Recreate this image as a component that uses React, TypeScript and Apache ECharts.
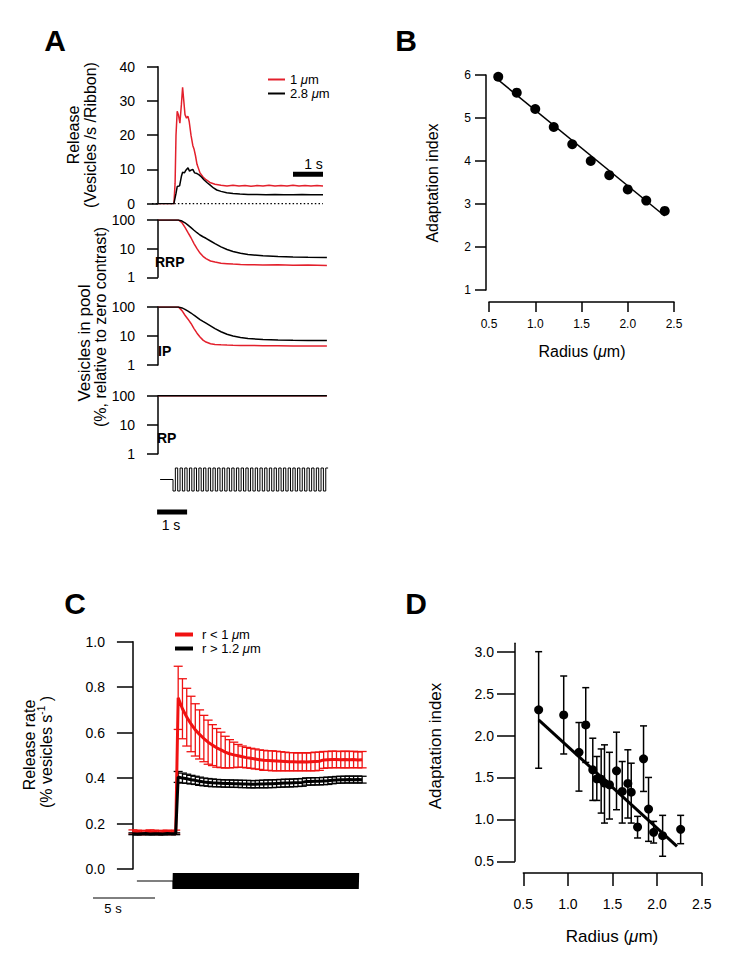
import React, { useEffect, useRef } from "react";
import * as echarts from "echarts";

const FONT = "'Liberation Sans', Arial, Helvetica, sans-serif";
const RED_A = "#e3202c";
const RED_C = "#f01212";
const BLACK = "#000000";

// ---------------- Panel A : release (vesicles / s / ribbon) ----------------
const A_RED_T = [0, 0.53, 0.57, 0.6, 0.64, 0.68, 0.73, 0.78, 0.82, 0.86, 0.9, 0.95, 1.0, 1.04, 1.1, 1.16, 1.2, 1.25, 1.3, 1.4, 1.5, 1.6, 1.73, 1.9, 2.1, 2.3, 2.5, 2.7, 2.9, 3.1, 3.3, 3.5, 3.7, 3.9, 4.1, 4.3, 4.5, 4.7, 4.9, 5.1, 5.3, 5.5];
const A_RED_REL = [0, 0, 6, 20, 27, 26, 23.5, 29, 34, 30, 26, 25, 25.5, 24, 20, 17, 16, 14, 11.5, 9, 7.8, 7, 6.2, 5.7, 5.4, 5.2, 5.4, 5.2, 5.3, 5.1, 5.3, 5.2, 5.4, 5.2, 5.3, 5.2, 5.4, 5.2, 5.3, 5.2, 5.3, 5.2];
const A_BLK_T = [0, 0.53, 0.6, 0.64, 0.72, 0.78, 0.82, 0.88, 0.93, 1.0, 1.05, 1.1, 1.16, 1.22, 1.3, 1.36, 1.45, 1.53, 1.63, 1.73, 1.85, 1.96, 2.1, 2.29, 2.5, 2.73, 3.0, 3.3, 3.6, 3.9, 4.2, 4.5, 4.8, 5.1, 5.5];
const A_BLK_REL = [0, 0, 3, 5, 5.2, 8, 9.2, 9, 9.8, 10.5, 9.5, 9.8, 10, 9, 8.8, 8.5, 7.8, 7, 6.2, 5.5, 4.6, 4, 3.6, 3.2, 2.95, 2.8, 2.7, 2.65, 2.6, 2.65, 2.6, 2.6, 2.65, 2.6, 2.6];
const A_ZERO_T = [-0.2, 5.5];
const A_ZERO_V = [0, 0];
const A_REL_TICKS = [0, 10, 20, 30, 40];
const A_LEGEND = ["1 μm", "2.8 μm"];
const A_SCALE_T = [4.5, 5.5];
const A_SCALE_V = [8.6, 8.6];

// ---------------- Panel A : pools (% relative to zero contrast) ----------------
const P_T = [0, 0.68, 0.8, 0.9, 1.0, 1.1, 1.2, 1.3, 1.4, 1.5, 1.6, 1.75, 1.9, 2.1, 2.3, 2.5, 2.75, 3.0, 3.5, 4.0, 4.5, 5.0, 5.63];
const RRP_RED = [100, 100, 80, 55, 36, 24, 15, 10, 7, 5.4, 4.5, 3.7, 3.4, 3.1, 3.0, 2.9, 2.8, 2.75, 2.7, 2.75, 2.65, 2.7, 2.6];
const RRP_BLK = [100, 100, 92, 80, 66, 54, 44, 36, 30, 26, 23, 18.5, 15, 11.5, 9.3, 8, 6.9, 6.2, 5.6, 5.3, 5.1, 5.0, 4.9];
const IP_RED = [100, 100, 75, 52, 38, 27, 18, 12.5, 9.2, 7.2, 6.2, 5.4, 5.1, 4.95, 4.85, 4.8, 4.75, 4.7, 4.65, 4.6, 4.55, 4.5, 4.5];
const IP_BLK = [100, 100, 93, 83, 72, 62, 52, 44, 37, 32, 28, 22.5, 18, 14, 11.5, 10, 8.9, 8.2, 7.6, 7.3, 7.1, 7.0, 7.0];
const RP_T = [0, 5.63];
const RP_RED = [100, 100];
const RP_BLK = [100, 100];

// stimulus (square-wave contrast) and its 1 s scale bar
const A_STIM = { start: 0.07, onset: 0.5, end: 5.67, cycles: 33 };
const A_STIM_SCALE_T = [-0.03, 0.97];
const A_STIM_SCALE_V = [-2.83, -2.83];

// ---------------- Panel B ----------------
const B_RADIUS = [0.6, 0.8, 1.0, 1.2, 1.4, 1.6, 1.8, 2.0, 2.2, 2.4];
const B_INDEX = [5.96, 5.59, 5.21, 4.79, 4.39, 4.0, 3.67, 3.34, 3.08, 2.84];
const B_FIT_X = [0.58, 2.4];
const B_FIT_Y = [5.92, 2.72];

// ---------------- Panel C ----------------
const C_BIN = 0.345;
const C_BASE_T0 = 0;
const C_POST_T0 = 3.65;
const C_RED_BASE = [0.163, 0.162, 0.16, 0.161, 0.163, 0.162, 0.16, 0.161, 0.162, 0.16, 0.162];
const C_RED_BASE_ERR = [0.009, 0.009, 0.009, 0.009, 0.009, 0.009, 0.009, 0.009, 0.009, 0.009, 0.009];
const C_BLK_BASE = [0.155, 0.154, 0.155, 0.156, 0.154, 0.155, 0.155, 0.154, 0.156, 0.155, 0.155];
const C_BLK_BASE_ERR = [0.004, 0.004, 0.004, 0.004, 0.004, 0.004, 0.004, 0.004, 0.004, 0.004, 0.004];
const C_RED_POST = [0.753, 0.705, 0.668, 0.638, 0.612, 0.592, 0.574, 0.558, 0.545, 0.533, 0.524, 0.514, 0.507, 0.502, 0.498, 0.494, 0.49, 0.487, 0.484, 0.481, 0.478, 0.477, 0.476, 0.475, 0.474, 0.473, 0.472, 0.472, 0.471, 0.472, 0.471, 0.472, 0.473, 0.474, 0.48, 0.481, 0.482, 0.482, 0.481, 0.482, 0.481, 0.482, 0.48, 0.481];
const C_RED_POST_ERR = [0.139, 0.132, 0.127, 0.122, 0.115, 0.108, 0.102, 0.097, 0.09, 0.085, 0.078, 0.07, 0.062, 0.056, 0.05, 0.047, 0.045, 0.044, 0.044, 0.043, 0.044, 0.043, 0.044, 0.043, 0.042, 0.041, 0.04, 0.04, 0.039, 0.04, 0.039, 0.04, 0.041, 0.04, 0.037, 0.036, 0.037, 0.036, 0.036, 0.037, 0.036, 0.036, 0.035, 0.036];
const C_BLK_POST = [0.405, 0.4, 0.397, 0.393, 0.39, 0.386, 0.383, 0.381, 0.379, 0.378, 0.377, 0.376, 0.376, 0.375, 0.375, 0.374, 0.374, 0.373, 0.373, 0.374, 0.374, 0.375, 0.375, 0.376, 0.377, 0.378, 0.378, 0.379, 0.38, 0.381, 0.385, 0.385, 0.386, 0.386, 0.387, 0.388, 0.39, 0.392, 0.393, 0.393, 0.394, 0.393, 0.394, 0.393];
const C_BLK_POST_ERR = [0.024, 0.022, 0.02, 0.019, 0.018, 0.018, 0.017, 0.017, 0.017, 0.016, 0.016, 0.016, 0.016, 0.016, 0.016, 0.016, 0.016, 0.016, 0.016, 0.016, 0.017, 0.017, 0.017, 0.017, 0.017, 0.017, 0.017, 0.017, 0.017, 0.017, 0.016, 0.016, 0.016, 0.016, 0.016, 0.016, 0.015, 0.015, 0.015, 0.015, 0.015, 0.015, 0.015, 0.015];
const C_LEGEND = ["r < 1 μm", "r > 1.2 μm"];
const C_STIM = { start: 0.32, onset: 3.23, end: 18.23, cycles: 240 };
const C_PX_PER_S = 12.4;
const C_SCALE_S = 5;

// ---------------- Panel D ----------------
const D_RADIUS = [0.672, 0.953, 1.124, 1.2, 1.279, 1.324, 1.373, 1.41, 1.466, 1.545, 1.609, 1.672, 1.71, 1.781, 1.848, 1.904, 1.961, 2.062, 2.264];
const D_INDEX = [2.306, 2.246, 1.8, 2.127, 1.591, 1.484, 1.48, 1.433, 1.413, 1.579, 1.333, 1.429, 1.325, 0.909, 1.722, 1.123, 0.845, 0.806, 0.881];
const D_UPPER = [3.0, 2.71, 2.155, 2.571, 1.968, 1.75, 1.84, 1.889, 1.8, 2.04, 1.69, 1.83, 1.67, 1.036, 2.115, 1.5, 0.976, 1.048, 1.048];
const D_LOWER = [1.61, 1.78, 1.337, 1.679, 1.226, 1.226, 1.075, 0.956, 1.004, 1.115, 0.956, 1.016, 0.956, 0.778, 1.333, 0.738, 0.718, 0.56, 0.71];
const D_FIT_X = [0.672, 2.223];
const D_FIT_Y = [2.187, 0.679];
const D_TICKS = [0.5, 1.0, 1.5, 2.0, 2.5, 3.0];

// ---------------- helpers ----------------
const zip = (xs: number[], ys: number[]) => xs.map((x, i) => [x, ys[i]]);
const bins = (t0: number, step: number, n: number) =>
  Array.from({ length: n }, (_, i) => +(t0 + i * step).toFixed(4));

function squareWave(s: { start: number; onset: number; end: number; cycles: number }) {
  const pts: number[][] = [[s.start, 0], [s.onset, 0]];
  const half = (s.end - s.onset) / (s.cycles * 2);
  let level = -1;
  for (let i = 0; i < s.cycles * 2; i++) {
    const t0 = s.onset + i * half;
    pts.push([t0, level], [t0 + half, level]);
    level = -level;
  }
  return pts;
}

const C_T = [...bins(C_BASE_T0, C_BIN, C_RED_BASE.length), ...bins(C_POST_T0, C_BIN, C_RED_POST.length)];
const C_RED = [...C_RED_BASE, ...C_RED_POST];
const C_RED_ERR = [...C_RED_BASE_ERR, ...C_RED_POST_ERR];
const C_BLK = [...C_BLK_BASE, ...C_BLK_POST];
const C_BLK_ERR = [...C_BLK_BASE_ERR, ...C_BLK_POST_ERR];

const AX = { color: BLACK, width: 1.5 };
const labelStyle = (size: number, margin: number, extra: any = {}) => ({
  color: BLACK, fontSize: size, fontFamily: FONT, margin, ...extra,
});

function lineS(gi: number, data: number[][], color: string, width: number, extra: any = {}) {
  return {
    type: "line", xAxisIndex: gi, yAxisIndex: gi, data, showSymbol: false, symbol: "none",
    lineStyle: { color, width }, itemStyle: { color }, silent: true, ...extra,
  };
}

function errBars(gi: number, xs: number[], lo: number[], hi: number[], color: string, cap: number, width: number) {
  return {
    type: "custom", xAxisIndex: gi, yAxisIndex: gi, silent: true,
    data: xs.map((x, i) => [x, lo[i], hi[i]]),
    encode: { x: 0, y: [1, 2] },
    renderItem: (_p: any, api: any) => {
      const x = api.value(0);
      const a = api.coord([x, api.value(2)]);
      const b = api.coord([x, api.value(1)]);
      const w = cap / 2;
      const style = { stroke: color, lineWidth: width };
      return {
        type: "group",
        children: [
          { type: "line", shape: { x1: a[0], y1: a[1], x2: b[0], y2: b[1] }, style },
          { type: "line", shape: { x1: a[0] - w, y1: a[1], x2: a[0] + w, y2: a[1] }, style },
          { type: "line", shape: { x1: b[0] - w, y1: b[1], x2: b[0] + w, y2: b[1] }, style },
        ],
      };
    },
  };
}

const richMu = (size: number, lh: number) => ({
  i: { fontStyle: "italic", fontSize: size, fontFamily: FONT, color: BLACK, lineHeight: lh },
});
const muFmt = (s: string) => s.replace("μ", "{i|μ}");

function text(x: number, y: number, str: string, size: number, opts: any = {}) {
  const { rotate, bold, align, rich, lineHeight } = opts;
  return {
    type: "text", x, y, rotation: rotate ? Math.PI / 2 : 0, silent: true,
    style: {
      text: str, fill: BLACK, fontSize: size, fontFamily: FONT, fontWeight: bold ? "bold" : "normal",
      align: align || "center", verticalAlign: "middle", lineHeight: lineHeight || size + 2, rich,
    },
  };
}

function buildOption() {
  const hiddenX = (gi: number, min: number, max: number) => ({ gridIndex: gi, type: "value", min, max, show: false });
  const A_XMIN = -1 / 3, A_XMAX = 17 / 3;
  const C_XMIN = -0.8, C_XMAX = 18.6;

  const logY = (gi: number) => ({
    gridIndex: gi, type: "log", logBase: 10, min: 1, max: 100,
    axisLine: { show: true, lineStyle: AX }, axisTick: { show: true, length: 11, lineStyle: AX },
    splitLine: { show: false }, axisLabel: labelStyle(14, 13),
  });

  return {
    animation: false,
    backgroundColor: "#ffffff",
    textStyle: { fontFamily: FONT },
    grid: [
      { left: 148, top: 66.7, width: 180, height: 137, outerBoundsMode: "none" },
      { left: 148, top: 220, width: 180, height: 57.3, outerBoundsMode: "none" },
      { left: 148, top: 307, width: 180, height: 58, outerBoundsMode: "none" },
      { left: 148, top: 395.7, width: 180, height: 58, outerBoundsMode: "none" },
      { left: 148, top: 462.25, width: 180, height: 57.5, outerBoundsMode: "none" },
      { left: 489, top: 75, width: 185, height: 215, outerBoundsMode: "none" },
      { left: 123, top: 641.7, width: (C_XMAX - C_XMIN) * C_PX_PER_S, height: 227.3, outerBoundsMode: "none" },
      { left: 123, top: 873, width: (C_XMAX - C_XMIN) * C_PX_PER_S, height: 16, outerBoundsMode: "none" },
      { left: 523.3, top: 643.3, width: 178.4, height: 218, outerBoundsMode: "none" },
    ],
    xAxis: [
      hiddenX(0, A_XMIN, A_XMAX),
      hiddenX(1, A_XMIN, A_XMAX),
      hiddenX(2, A_XMIN, A_XMAX),
      hiddenX(3, A_XMIN, A_XMAX),
      hiddenX(4, A_XMIN, A_XMAX),
      {
        gridIndex: 5, type: "value", min: 0.5, max: 2.5, interval: 0.5, offset: 12,
        axisLine: { show: true, lineStyle: AX }, axisTick: { show: true, length: 10, lineStyle: AX },
        splitLine: { show: false }, axisLabel: labelStyle(12, 16, { formatter: (v: number) => v.toFixed(1) }),
      },
      hiddenX(6, C_XMIN, C_XMAX),
      hiddenX(7, C_XMIN, C_XMAX),
      {
        gridIndex: 8, type: "value", min: 0.5, max: 2.5, interval: 0.5, offset: 11.7,
        axisLine: { show: true, lineStyle: AX }, axisTick: { show: true, length: 13, lineStyle: AX },
        splitLine: { show: false }, axisLabel: labelStyle(14, 24, { formatter: (v: number) => v.toFixed(1) }),
      },
    ],
    yAxis: [
      {
        gridIndex: 0, type: "value", min: A_REL_TICKS[0], max: A_REL_TICKS[A_REL_TICKS.length - 1], interval: 10,
        axisLine: { show: true, lineStyle: AX }, axisTick: { show: true, length: 11, lineStyle: AX },
        splitLine: { show: false }, axisLabel: labelStyle(14, 13),
      },
      logY(1),
      logY(2),
      logY(3),
      { gridIndex: 4, type: "value", min: -3.5, max: 1.5, show: false },
      {
        gridIndex: 5, type: "value", min: 1, max: 6, interval: 1, offset: 3,
        axisLine: { show: true, lineStyle: AX }, axisTick: { show: true, length: 11, lineStyle: AX },
        splitLine: { show: false }, axisLabel: labelStyle(12, 15),
      },
      {
        gridIndex: 6, type: "value", min: 0, max: 1, interval: 0.2,
        axisLine: { show: true, lineStyle: AX }, axisTick: { show: true, length: 16, lineStyle: AX },
        splitLine: { show: false }, axisLabel: labelStyle(14, 18, { formatter: (v: number) => v.toFixed(1) }),
      },
      { gridIndex: 7, type: "value", min: -1, max: 1, show: false },
      {
        gridIndex: 8, type: "value", min: 0.5, max: 3.1, interval: 0.5, offset: 8.3,
        axisLine: { show: true, lineStyle: AX },
        axisTick: { show: true, length: 18, lineStyle: AX, customValues: D_TICKS },
        splitLine: { show: false },
        axisLabel: labelStyle(14, 21, { formatter: (v: number) => v.toFixed(1), customValues: D_TICKS }),
      },
    ],
    legend: [
      {
        data: [{ name: A_LEGEND[0], itemStyle: { color: RED_A } }, { name: A_LEGEND[1], itemStyle: { color: BLACK } }],
        orient: "vertical", left: 268, top: 73, padding: 0, itemWidth: 17, itemHeight: 2, icon: "rect", itemGap: 1,
        selectedMode: false, formatter: muFmt,
        textStyle: { color: BLACK, fontSize: 13, fontFamily: FONT, lineHeight: 13, rich: richMu(13, 13) },
      },
      {
        data: [{ name: C_LEGEND[0], itemStyle: { color: RED_C } }, { name: C_LEGEND[1], itemStyle: { color: BLACK } }],
        orient: "vertical", left: 175, top: 628, padding: 0, itemWidth: 18, itemHeight: 4, icon: "rect", itemGap: 1,
        selectedMode: false, formatter: muFmt,
        textStyle: { color: BLACK, fontSize: 13, fontFamily: FONT, lineHeight: 13, padding: [0, 0, 0, 4], rich: richMu(13, 13) },
      },
    ],
    series: [
      // A release
      lineS(0, zip(A_ZERO_T, A_ZERO_V), BLACK, 1.5, { lineStyle: { color: BLACK, width: 1.5, type: [1.5, 2.2] } }),
      lineS(0, zip(A_RED_T, A_RED_REL), RED_A, 1.5, { name: A_LEGEND[0] }),
      lineS(0, zip(A_BLK_T, A_BLK_REL), BLACK, 1.5, { name: A_LEGEND[1] }),
      lineS(0, zip(A_SCALE_T, A_SCALE_V), BLACK, 5),
      // A pools
      lineS(1, zip(P_T, RRP_RED), RED_A, 1.5),
      lineS(1, zip(P_T, RRP_BLK), BLACK, 1.5),
      lineS(2, zip(P_T, IP_RED), RED_A, 1.5),
      lineS(2, zip(P_T, IP_BLK), BLACK, 1.5),
      lineS(3, zip(RP_T, RP_RED), RED_A, 1.5),
      lineS(3, zip(RP_T, RP_BLK), BLACK, 1.5),
      // A stimulus
      lineS(4, squareWave(A_STIM), BLACK, 1),
      lineS(4, zip(A_STIM_SCALE_T, A_STIM_SCALE_V), BLACK, 5),
      // B
      lineS(5, zip(B_FIT_X, B_FIT_Y), BLACK, 1.5),
      {
        type: "scatter", xAxisIndex: 5, yAxisIndex: 5, data: zip(B_RADIUS, B_INDEX),
        symbolSize: 10, itemStyle: { color: BLACK, opacity: 1 }, silent: true, z: 5,
      },
      // C
      errBars(6, C_T, C_RED.map((v, i) => v - C_RED_ERR[i]), C_RED.map((v, i) => v + C_RED_ERR[i]), RED_C, 9, 1.3),
      lineS(6, zip(C_T, C_RED), RED_C, 3, { name: C_LEGEND[0] }),
      errBars(6, C_T, C_BLK.map((v, i) => v - C_BLK_ERR[i]), C_BLK.map((v, i) => v + C_BLK_ERR[i]), BLACK, 9, 1.3),
      lineS(6, zip(C_T, C_BLK), BLACK, 3, { name: C_LEGEND[1] }),
      lineS(7, squareWave(C_STIM), BLACK, 1.2),
      // D
      errBars(8, D_RADIUS, D_LOWER, D_UPPER, BLACK, 7, 1.5),
      lineS(8, zip(D_FIT_X, D_FIT_Y), BLACK, 3),
      {
        type: "scatter", xAxisIndex: 8, yAxisIndex: 8, data: zip(D_RADIUS, D_INDEX),
        symbolSize: 9, itemStyle: { color: BLACK, opacity: 1 }, silent: true, z: 5,
      },
    ],
    graphic: [
      // panel letters
      text(55, 40, "A", 30, { bold: true }),
      text(406, 40, "B", 30, { bold: true }),
      text(75, 603, "C", 30, { bold: true }),
      text(416, 603, "D", 30, { bold: true }),
      // A titles
      text(81.5, 135, "Release\n(Vesicles /s /Ribbon)", 16, { rotate: true, lineHeight: 17 }),
      text(84, 343, "Vesicles in pool", 17, { rotate: true }),
      text(100, 327, "(%, relative to zero contrast)", 16, { rotate: true }),
      text(155, 262, "RRP", 14, { bold: true, align: "left" }),
      text(158, 351, "IP", 14, { bold: true, align: "left" }),
      text(157, 438, "RP", 14, { bold: true, align: "left" }),
      text(313.5, 164, "1 s", 14),
      text(171, 525, "1 s", 14),
      // B titles
      text(432, 183, "Adaptation index", 16, { rotate: true }),
      text(582, 351, "Radius ({i|μ}m)", 16, { rich: richMu(16, 18) }),
      // C titles
      text(29, 745, "Release rate", 16, { rotate: true }),
      text(46, 752, "(% vesicles s{sup|-1} )", 16, {
        rotate: true, lineHeight: 20,
        rich: { sup: { fontSize: 10, fontFamily: FONT, color: BLACK, verticalAlign: "top", lineHeight: 10 } },
      }),
      {
        type: "line", silent: true,
        shape: { x1: 93, y1: 898, x2: 93 + C_SCALE_S * C_PX_PER_S, y2: 898 },
        style: { stroke: BLACK, lineWidth: 1 },
      },
      text(113, 908, "5 s", 13),
      // D titles
      text(435, 746, "Adaptation index", 17, { rotate: true }),
      text(612, 936, "Radius ({i|μ}m)", 17, { rich: richMu(17, 19) }),
    ],
  };
}

export default function App() {
  const ref = useRef<HTMLDivElement>(null);
  useEffect(() => {
    if (!ref.current) return;
    const chart = echarts.init(ref.current, null, { renderer: "svg" });
    chart.setOption(buildOption() as any);
    return () => chart.dispose();
  }, []);
  return (
    <div
      ref={ref}
      style={{ position: "fixed", left: 0, top: 0, width: 729, height: 963, background: "#ffffff" }}
    />
  );
}
